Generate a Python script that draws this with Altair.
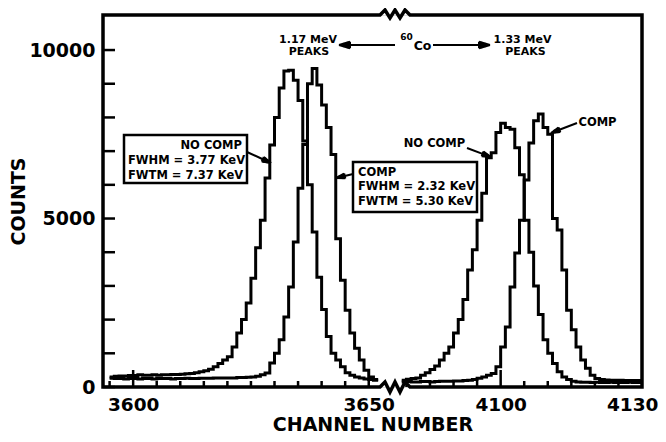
import math
import altair as alt
import pandas as pd

# ---------------- data ----------------
LEFT_START = 3595      # first channel drawn around the 1.17 MeV peaks
RIGHT_START = 4079     # first channel drawn around the 1.33 MeV peaks
BREAK_SHIFT = 422      # channels removed by the axis break
X_DOMAIN = [3593.6, 4130 - BREAK_SHIFT]
Y_DOMAIN = [0, 11040]

nocomp_117 = [300, 320, 330, 330, 340, 340, 360, 350, 350, 360,
              350, 360, 360, 370, 370, 380, 390, 400, 420, 450,
              480, 530, 600, 700, 800,
              900, 1190, 1600, 2000, 2490, 3230, 4130, 4950, 6200, 7180,
              8000, 8870, 9380, 9400, 9100, 8500, 7300, 6000, 4600, 3260,
              2300, 1500, 1000, 800, 600, 420, 350, 300, 270, 240,
              220, 200]
comp_117 = [260, 250, 250, 240, 250, 250, 240, 250, 250, 240,
            250, 250, 250, 240, 250, 250, 260, 250, 250, 260,
            260, 260, 270, 270, 270,
            270, 270, 280, 280, 290, 300, 320, 360, 415, 710, 1000, 1400,
            2080, 2970, 4300, 5900, 7200, 9000, 9450, 8960, 8370, 7700,
            6900, 4400, 3170, 2280, 1600, 1150, 800, 500, 300, 220]
nocomp_133 = [200, 230, 250, 270, 350, 420, 520, 620, 800, 1000,
              1190, 1600, 2000, 2600, 3470, 4070, 4950, 5750, 6800, 6950,
              7550, 7830, 7700, 7650, 7100, 6300, 4950, 4000, 3000, 2150,
              1400, 1000, 700, 450, 300, 220, 170, 150,
              140, 140, 130, 140, 130, 130, 140, 130, 130, 130, 140, 130, 130]
comp_133 = [150, 160, 150, 150, 160, 160, 150, 160, 170, 170,
            170, 180, 180, 190, 200,
            220, 260, 300, 350, 400, 600, 1190, 1780, 2970, 3980,
            4950, 6140, 7240, 7900, 8100, 7700, 7500, 5000, 4660, 3470,
            2280, 1700, 1190, 800, 560, 350, 250,
            220, 210, 200, 200, 200, 190, 190, 190, 190]

Y_TICKS = [0, 1000, 2000, 3000, 4000, 5000, 6000, 7000, 8000, 9000, 10000]
Y_LABELS = [0, 5000, 10000]
X_TICKS_SHORT = [3595, 3605, 3610, 3615, 3620, 3625, 3630, 3635, 3640, 3645,
                 4080, 4085, 4090, 4095, 4105, 4110, 4115, 4120, 4125]
X_TICKS_MID = [3650]
X_TICKS_LONG = [3600, 4100]
X_LABELS = [3600, 3650, 4100, 4130]


def to_pos(ch):
    return ch - BREAK_SHIFT if ch > 3900 else ch


rows = []
for name, start, counts in [("nocomp_117", LEFT_START, nocomp_117),
                            ("comp_117", LEFT_START, comp_117),
                            ("nocomp_133", RIGHT_START, nocomp_133),
                            ("comp_133", RIGHT_START, comp_133)]:
    for i, v in enumerate(counts):
        rows.append({"series": name, "pos": to_pos(start + i), "counts": v})
    rows.append({"series": name, "pos": to_pos(start + len(counts)), "counts": counts[-1]})
spec_df = pd.DataFrame(rows)

FONT = "DejaVu Sans"
W, H = 539, 372

xscale = alt.Scale(domain=X_DOMAIN, nice=False, zero=False)
yscale = alt.Scale(domain=Y_DOMAIN, nice=False, zero=False)

label_vals = [to_pos(v) for v in X_LABELS]

curves = alt.Chart(spec_df).mark_line(
    interpolate="step-after", color="black", strokeWidth=3
).encode(
    x=alt.X("pos:Q", scale=xscale,
            axis=alt.Axis(values=label_vals, ticks=False, tickSize=0, domain=False, grid=False,
                          labelExpr=f"datum.value > 3660 ? format(datum.value + {BREAK_SHIFT}, 'd') : format(datum.value, 'd')",
                          labelFont=FONT, labelFontSize=18.5, labelFontWeight="bold", labelColor="black",
                          labelPadding=8, labelFlush=True, labelFlushOffset=16,
                          title="CHANNEL NUMBER", titleFont=FONT, titleFontSize=19,
                          titleFontWeight="bold", titleColor="black", titlePadding=2)),
    y=alt.Y("counts:Q", scale=yscale,
            axis=alt.Axis(values=Y_LABELS, ticks=False, tickSize=0, domain=False, grid=False,
                          labelFont=FONT, labelFontSize=19, labelFontWeight="bold", labelColor="black",
                          labelPadding=8, format="d",
                          title="COUNTS", titleFont=FONT, titleFontSize=19,
                          titleFontWeight="bold", titleColor="black", titlePadding=0)),
    detail="series:N",
)

# inward y ticks
yt = alt.Chart(pd.DataFrame({"v": Y_TICKS})).mark_rule(color="black", strokeWidth=2.5).encode(
    y=alt.Y("v:Q", scale=yscale), x=alt.value(0), x2=alt.value(12))


def xticks(vals, length):
    return alt.Chart(pd.DataFrame({"v": [to_pos(v) for v in vals]})).mark_rule(
        color="black", strokeWidth=2.5).encode(
        x=alt.X("v:Q", scale=xscale), y=alt.value(H), y2=alt.value(H - length))


# frame with break zigzags (pixel coordinates of the plot area)
frame_pts = [(0, H), (0, 0), (277, 0), (282, -5), (287, 3), (292, -5), (297, 3), (302, -5), (307, 0),
             (W, 0), (W, H), (307, H), (302, H - 5), (297, H + 5), (292, H - 5), (287, H + 5),
             (282, H - 5), (277, H), (0, H)]
frame_df = pd.DataFrame({"i": range(len(frame_pts)), "px": [p[0] for p in frame_pts],
                         "py": [p[1] for p in frame_pts]})
frame = alt.Chart(frame_df).mark_line(color="black", strokeWidth=3.5, strokeCap="square").encode(
    x=alt.X("px:Q", scale=None), y=alt.Y("py:Q", scale=None), order="i:Q")

# annotation text
texts = pd.DataFrame([
    {"t": "1.17 MeV", "x": 205, "y": 25, "s": 11, "a": "center"},
    {"t": "PEAKS", "x": 206, "y": 37, "s": 11, "a": "center"},
    {"t": "1.33 MeV", "x": 419.5, "y": 25, "s": 11, "a": "center"},
    {"t": "PEAKS", "x": 422.5, "y": 37, "s": 11, "a": "center"},
    {"t": "Co", "x": 319.5, "y": 30.5, "s": 12.5, "a": "center"},
    {"t": "60", "x": 303.5, "y": 22, "s": 9, "a": "center"},
    {"t": "NO COMP", "x": 331.5, "y": 129, "s": 11.5, "a": "center"},
    {"t": "COMP", "x": 494.5, "y": 108, "s": 11.5, "a": "center"},
    {"t": "NO COMP", "x": 139, "y": 131, "s": 11.5, "a": "right"},
    {"t": "FWHM = 3.77 KeV", "x": 25, "y": 146, "s": 11.5, "a": "left"},
    {"t": "FWTM = 7.37 KeV", "x": 25, "y": 160.5, "s": 11.5, "a": "left"},
    {"t": "COMP", "x": 255, "y": 157.5, "s": 11.5, "a": "left"},
    {"t": "FWHM = 2.32 KeV", "x": 255, "y": 171.5, "s": 11.5, "a": "left"},
    {"t": "FWTM = 5.30 KeV", "x": 255, "y": 186.5, "s": 11.5, "a": "left"},
])


def text_layer(al):
    return alt.Chart(texts).transform_filter(alt.datum.a == al).mark_text(
        align=al, baseline="middle", font=FONT, fontWeight="bold", color="black").encode(
        x=alt.X("x:Q", scale=None), y=alt.Y("y:Q", scale=None), text="t:N",
        size=alt.Size("s:Q", scale=None))


boxes = pd.DataFrame([{"x": 21, "x2": 144, "y": 120, "y2": 168},
                      {"x": 250, "x2": 374, "y": 147, "y2": 197}])
box_layer = alt.Chart(boxes).mark_rect(fillOpacity=0, stroke="black", strokeWidth=2.5).encode(
    x=alt.X("x:Q", scale=None), x2="x2:Q", y=alt.Y("y:Q", scale=None), y2="y2:Q")

# arrows: (tail, tip, head length, head half-width) in plot pixels
arrows = [((144, 137), (168, 148), 9, 2.5), ((250, 159), (233, 163), 9, 2.5),
          ((364, 133), (388, 142), 9, 2.5), ((474, 108), (448, 118), 9, 2.5),
          ((292, 30), (236, 30), 11, 3.2), ((330, 30), (387, 30), 11, 3.2)]
segs = []
for (x0, y0), (x1, y1), hl, hw in arrows:
    dx, dy = x1 - x0, y1 - y0
    L = math.hypot(dx, dy)
    ux, uy = dx / L, dy / L
    bx, by = x1 - ux * hl, y1 - uy * hl
    px, py = -uy * hw, ux * hw
    segs.append({"x": x0, "y": y0, "x2": bx, "y2": by, "w": 2})
    segs.append({"x": x1, "y": y1, "x2": bx + px, "y2": by + py, "w": 2})
    segs.append({"x": x1, "y": y1, "x2": bx - px, "y2": by - py, "w": 2})
    segs.append({"x": bx + px, "y": by + py, "x2": bx - px, "y2": by - py, "w": 2})
    for f in (0.35, 0.7):
        segs.append({"x": x1 - ux * hl * f, "y": y1 - uy * hl * f,
                     "x2": bx, "y2": by, "w": 2 + 2 * hw * f})
seg_df = pd.DataFrame(segs)
arrow_layer = alt.Chart(seg_df).mark_rule(color="black").encode(
    x=alt.X("x:Q", scale=None), x2="x2:Q", y=alt.Y("y:Q", scale=None), y2="y2:Q",
    strokeWidth=alt.StrokeWidth("w:Q", scale=None))

chart = alt.layer(
    curves, yt, xticks(X_TICKS_SHORT, 6), xticks(X_TICKS_MID, 9), xticks(X_TICKS_LONG, 17),
    frame, box_layer, arrow_layer,
    text_layer("center"), text_layer("left"), text_layer("right"),
).properties(
    width=W, height=H,
    autosize=alt.AutoSizeParams(type="none"),
    padding={"left": 95, "top": 7, "right": 16, "bottom": 47},
).configure_view(stroke=None).configure(background="white")

chart.save("out.html", embed_options={"renderer": "svg", "actions": False})
